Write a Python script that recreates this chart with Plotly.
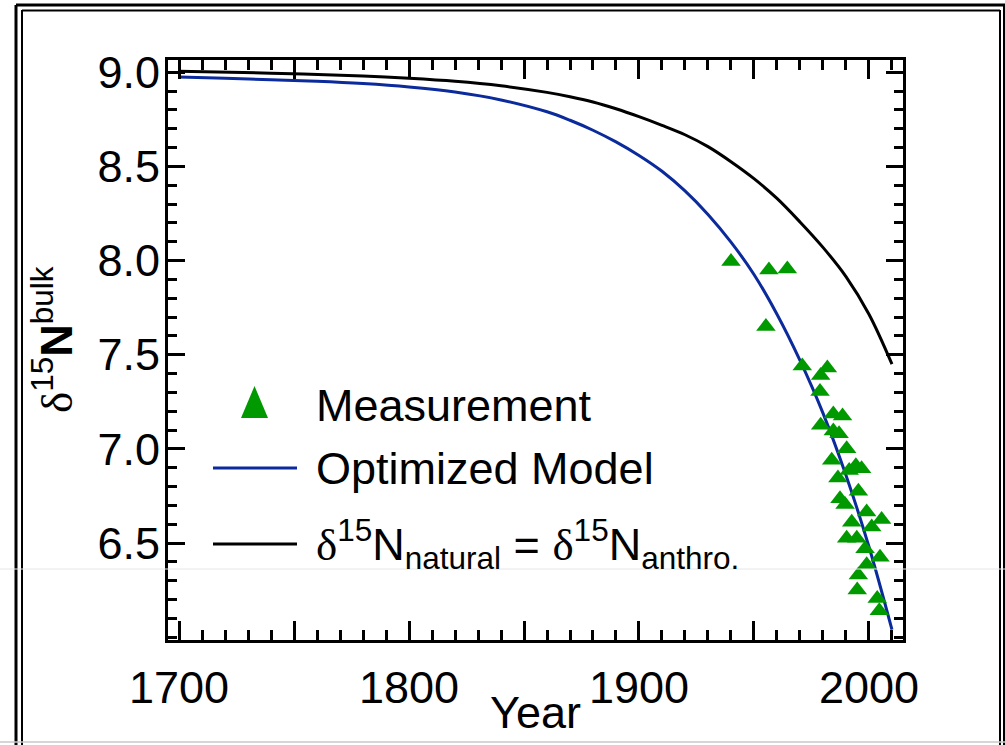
import plotly.graph_objects as go

# ---------------- data ----------------
meas_years = [1940, 1956.5, 1964.5, 1955.2, 1971, 1981.9, 1979, 1978.7, 1984.5, 1988.5,
              1979, 1984.5, 1987, 1990.3, 1983.8, 1994.3, 1996.8, 1991.4, 1986.5, 1995.4,
              1987.4, 1989.6, 1999, 2005.5, 1992.5, 2001.2, 1990.3, 1994.7, 1998.3, 2004.8,
              1999, 1995.4, 1994.9, 2003.6, 2004.5]
meas_values = [7.995, 7.95, 7.955, 7.65, 7.44, 7.43, 7.39, 7.305, 7.185, 7.175,
               7.125, 7.095, 7.08, 7.0, 6.94, 6.91, 6.895, 6.885, 6.845, 6.775,
               6.735, 6.705, 6.665, 6.625, 6.61, 6.585, 6.525, 6.525, 6.47, 6.425,
               6.385, 6.33, 6.25, 6.205, 6.14]

model_years = [1700, 1720, 1740, 1760, 1780, 1800, 1820, 1840, 1860, 1870, 1880, 1890,
               1900, 1910, 1920, 1930, 1940, 1950, 1960, 1970, 1980, 1990, 2000, 2010]
model_values = [8.975, 8.968, 8.96, 8.952, 8.94, 8.922, 8.895, 8.853, 8.79, 8.745, 8.692,
                8.63, 8.558, 8.474, 8.37, 8.245, 8.098, 7.926, 7.715, 7.47, 7.19, 6.86,
                6.48, 6.04]

natural_years = [1700, 1740, 1780, 1800, 1820, 1840, 1860, 1870, 1880, 1890, 1900, 1910,
                 1920, 1930, 1940, 1950, 1960, 1970, 1980, 1990, 2000, 2010]
natural_values = [9.005, 8.995, 8.98, 8.968, 8.952, 8.928, 8.893, 8.87, 8.842, 8.806,
                  8.764, 8.718, 8.668, 8.605, 8.525, 8.435, 8.33, 8.205, 8.07, 7.915,
                  7.715, 7.45]

x_label_vals = [1700, 1800, 1900, 2000]
x_label_text = ["1700", "1800", "1900", "2000"]
x_half_vals = [1750, 1850, 1950]
y_tickvals = [6.5, 7.0, 7.5, 8.0, 8.5, 9.0]
y_ticktext = ["6.5", "7.0", "7.5", "8.0", "8.5", "9.0"]

DELTA = "<span style='font-family:Liberation Serif, Times New Roman, serif'>δ</span>"
legend_labels = ["Measurement", "Optimized Model",
                 DELTA + "<sup>15</sup>N<sub>natural</sub> = " + DELTA + "<sup>15</sup>N<sub>anthro.</sub>"]

# ---------------- layout geometry ----------------
W, H = 1005, 745
L, R, T, B = 168, 102, 60, 105
PW, PH = W - L - R, H - T - B


def px(x):
    return (x - L) / PW


def py(y):
    return (H - B - y) / PH


FONT = "Liberation Sans, Arial, sans-serif"
GREEN = "#009a00"
BLUE = "#0b2a9c"

fig = go.Figure()
fig.add_trace(go.Scatter(x=natural_years, y=natural_values, mode="lines", xaxis="x2",
                         line=dict(color="black", width=3, shape="spline", smoothing=1.0),
                         showlegend=False))
fig.add_trace(go.Scatter(x=model_years, y=model_values, mode="lines",
                         line=dict(color=BLUE, width=3, shape="spline", smoothing=1.0),
                         showlegend=False))
fig.add_trace(go.Scatter(x=meas_years, y=meas_values, mode="markers",
                         marker=dict(symbol="triangle-up", size=17, color=GREEN,
                                     line=dict(width=0)),
                         showlegend=False))

axis_common = dict(ticks="inside", tickwidth=3, tickcolor="black",
                   showline=True, linewidth=3, linecolor="black", mirror="ticks",
                   showgrid=False, zeroline=False)

fig.update_layout(
    xaxis=dict(range=[1695.2, 2014.8], tickvals=x_label_vals, ticktext=x_label_text,
               ticklen=19, ticklabelstandoff=6,
               tickfont=dict(family=FONT, size=45, color="black"),
               minor=dict(tickmode="linear", tick0=1700, dtick=10, ticks="inside",
                          ticklen=10, tickwidth=3, tickcolor="black", showgrid=False),
               **axis_common),
    xaxis2=dict(overlaying="x", matches="x", side="bottom", tickvals=x_half_vals,
                ticklen=19, showticklabels=False, **axis_common),
    yaxis=dict(range=[5.985, 9.065], tickvals=y_tickvals, ticktext=y_ticktext,
               ticklen=17, ticklabelstandoff=-4,
               tickfont=dict(family=FONT, size=45, color="black"),
               minor=dict(tickmode="linear", tick0=6.0, dtick=0.1, ticks="inside",
                          ticklen=9, tickwidth=3, tickcolor="black", showgrid=False),
               **axis_common),
)

shapes = []
# double frame
shapes.append(dict(type="line", xref="paper", yref="paper", x0=px(16), x1=px(16), y0=py(5), y1=py(745),
                   line=dict(color="black", width=3)))
shapes.append(dict(type="line", xref="paper", yref="paper", x0=px(22), x1=px(22), y0=py(10), y1=py(745),
                   line=dict(color="black", width=2)))
shapes.append(dict(type="line", xref="paper", yref="paper", x0=px(16), x1=px(1005), y0=py(5), y1=py(5),
                   line=dict(color="black", width=3)))
shapes.append(dict(type="line", xref="paper", yref="paper", x0=px(22), x1=px(1000), y0=py(10.5), y1=py(10.5),
                   line=dict(color="black", width=2)))
shapes.append(dict(type="line", xref="paper", yref="paper", x0=px(1000), x1=px(1000), y0=py(10), y1=py(745),
                   line=dict(color="black", width=2)))
shapes.append(dict(type="line", xref="paper", yref="paper", x0=px(1004), x1=px(1004), y0=py(5), y1=py(745),
                   line=dict(color="black", width=2)))
# faint scan lines
shapes.append(dict(type="line", xref="paper", yref="paper", x0=px(0), x1=px(1005), y0=py(569), y1=py(569),
                   line=dict(color="#e6e6e6", width=1), layer="above"))
shapes.append(dict(type="line", xref="paper", yref="paper", x0=px(0), x1=px(1005), y0=py(742), y1=py(742),
                   line=dict(color="#c8c8c8", width=1.5), layer="above"))
# legend glyphs
shapes.append(dict(type="path", xref="paper", yref="paper",
                   path=f"M {px(241)} {py(418)} L {px(268)} {py(418)} L {px(254.5)} {py(386)} Z",
                   fillcolor=GREEN, line=dict(width=0)))
shapes.append(dict(type="line", xref="paper", yref="paper", x0=px(213), x1=px(297), y0=py(468), y1=py(468),
                   line=dict(color=BLUE, width=3)))
shapes.append(dict(type="line", xref="paper", yref="paper", x0=px(213), x1=px(297), y0=py(544), y1=py(544),
                   line=dict(color="black", width=3)))

annotations = []
for lab, yy in zip(legend_labels, [405, 468, 544]):
    annotations.append(dict(text=lab, xref="paper", yref="paper", x=px(314), y=py(yy),
                            xanchor="left", yanchor="middle", showarrow=False,
                            font=dict(family=FONT, size=45, color="black")))
annotations.append(dict(text="Year", xref="paper", yref="paper", x=px(535), y=py(712),
                        xanchor="center", yanchor="middle", showarrow=False,
                        font=dict(family=FONT, size=45, color="black")))
annotations.append(dict(text=DELTA + "<sup>15</sup><b>N</b><sup>bulk</sup>", xref="paper", yref="paper",
                        x=px(53), y=py(340), xanchor="center", yanchor="middle",
                        textangle=-90, showarrow=False,
                        font=dict(family=FONT, size=45, color="black")))

fig.update_layout(width=W, height=H, margin=dict(l=L, r=R, t=T, b=B, pad=0),
                  plot_bgcolor="white", paper_bgcolor="white",
                  shapes=shapes, annotations=annotations, showlegend=False)

fig.write_html("out.html", config={"displayModeBar": False},
               post_script="document.body.style.margin='0px';")
